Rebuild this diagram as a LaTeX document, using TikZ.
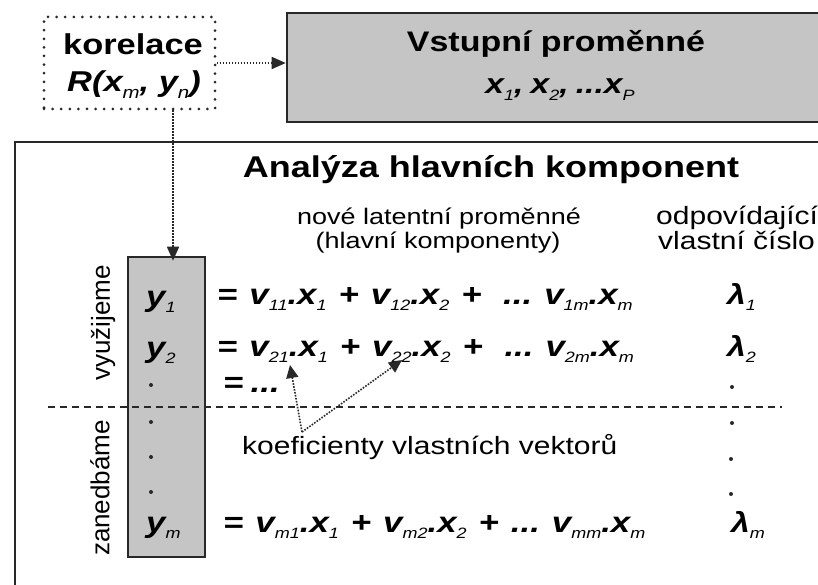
\documentclass[tikz,border=0pt]{standalone}
\usepackage{fontspec}
\setmainfont{Liberation Sans}
\usetikzlibrary{arrows.meta}
\usepackage{graphicx}
\definecolor{boxgray}{RGB}{197,197,197}
\definecolor{ink}{RGB}{40,40,40}
\newcommand\fs[1]{\fontsize{#1}{#1}\selectfont}
\newcommand\bix{\bfseries\itshape}
\newcommand\wide[1]{\scalebox{1.2}[1]{#1}}
% lowered index in a smaller size
\newcommand\ix[2][15]{\raisebox{-6.5pt}{\fs{#1}\mdseries #2}}
\newcommand\im{\textit{m}}
\newcommand\gap[1][10pt]{\hspace{#1}}
\tikzset{
  rowtext/.style={anchor=base west, inner sep=0pt, font=\fs{29}\bix},
  plain/.style={inner sep=0pt, font=\fs{22.5}},
  graybox/.style={draw=ink, line width=2.6pt, fill=boxgray, inner sep=0pt},
  dotbox/.style={draw=ink, line width=3pt, line cap=round, dash pattern=on 0pt off 8.6pt, inner sep=0pt},
  fineline/.style={ink, line width=1.6pt, dash pattern=on 1.6pt off 1.4pt},
  tip/.style={-{Triangle[length=14pt,width=12pt]}},
  smalltip/.style={-{Triangle[length=13pt,width=12pt]}},
  dot/.style={circle, fill=ink, inner sep=0pt, minimum size=4pt},
}
\begin{document}
\begin{tikzpicture}[x=1pt, y=-1pt]
\useasboundingbox (0,0) rectangle (818,585);
\fill[white] (0,0) rectangle (818,585);

% outer frame of the analysis
\draw[ink, line width=2.8pt] (15,142) rectangle (850,620);

% input variables
\node[graybox, minimum width=560pt, minimum height=109pt] (vst) at (567,67.5) {};
\node[inner sep=0pt, font=\fs{28.3}\bfseries, anchor=base] (vstt) at (556,52) {\wide{Vstupní proměnné}};
\node[inner sep=0pt, font=\fs{28}\bix, anchor=base] (vstx) at (560,94) {\wide{x\ix{1},\gap[6pt]x\ix{2},\gap[6pt]...x\ix{\textit{P}}}};

% correlation box
\node[dotbox, minimum width=171pt, minimum height=92pt] (kor) at (129.5,63) {};
\node[inner sep=0pt, font=\fs{28.7}\bfseries, anchor=base] (kort) at (133,55) {\wide{korelace}};
\node[inner sep=0pt, font=\fs{28.7}\bix, anchor=base] (korr) at (134,92) {\wide{R(x\ix[17]{\im}, y\ix[17]{\textit{n}})}};

% heading and column titles
\node[inner sep=0pt, font=\fs{30}\bfseries, anchor=base] (head) at (491,178) {\wide{Analýza hlavních komponent}};
\node[plain, anchor=base] (nl1) at (439,225) {\wide{nové latentní proměnné}};
\node[plain, anchor=base] (nl2) at (438,248) {\wide{(hlavní komponenty)}};
\node[plain, anchor=base west, font=\fs{25}] (ev1) at (656,225) {\wide{odpovídající}};
\node[plain, anchor=base west, font=\fs{25}] (ev2) at (658,249) {\wide{vlastní číslo}};

% component column
\node[graybox, minimum width=77pt, minimum height=300pt] (col) at (166.5,407) {};
\coordinate (px) at (173,0);

% split into retained and neglected components
\draw[ink, line width=2.5pt, dash pattern=on 7pt off 5pt] (48,407) -- (782,407);

\node[plain, rotate=90, font=\fs{26}] (use) at (103,323) {využijeme};
\node[plain, rotate=90, font=\fs{26}] (neg) at (100,488) {zanedbáme};

% rows
\node[rowtext] (y1) at (146,306) {\wide{y\ix{1}}};
\node[rowtext] (y2) at (146,357) {\wide{y\ix{2}}};
\node[rowtext] (ym) at (146,532) {\wide{y\ix{\im}}};
\node[dot] (c1) at (151,385) {};
\node[dot] (c2) at (151,422) {};
\node[dot] (c3) at (151,457) {};
\node[dot] (c4) at (151,492) {};

\node[rowtext] (e1) at (217,304) {\wide{=\gap v\ix{11}.x\ix{1}\gap+\gap v\ix{12}.x\ix{2}\gap+\gap[18pt]...\gap v\ix{1\im}.x\ix{\im}}};
\node[rowtext] (e2) at (217,356) {\wide{=\gap v\ix{21}.x\ix{1}\gap+\gap v\ix{22}.x\ix{2}\gap+\gap[18pt]...\gap v\ix{2\im}.x\ix{\im}}};
\node[rowtext] (e3) at (223,392) {\wide{=\gap[6pt]...}};
\node[rowtext] (em) at (223,532) {\wide{=\gap v\ix{\im1}.x\ix{1}\gap+\gap v\ix{\im2}.x\ix{2}\gap+\gap...\gap v\ix{\im\im}.x\ix{\im}}};

\node[rowtext, font=\fs{28}\bix] (l1) at (727,304) {\wide{λ\ix{1}}};
\node[rowtext, font=\fs{28}\bix] (l2) at (727,356) {\wide{λ\ix{2}}};
\node[rowtext, font=\fs{28}\bix] (lm) at (731,532) {\wide{λ\ix{\im}}};
\node[dot] (d1) at (732,387) {};
\node[dot] (d2) at (732,423) {};
\node[dot] (d3) at (731,459) {};
\node[dot] (d4) at (731,494) {};

% eigenvector coefficients
\node[plain, anchor=base west, font=\fs{25}] (koef) at (242,454) {\wide{koeficienty vlastních vektorů}};
\coordinate (kv) at (302,432);
\coordinate (k1) at (290,365);
\coordinate (k2) at (402,360);
\draw[fineline, smalltip] (kv) -- (k1);
\draw[fineline, smalltip] (kv) -- (k2);

% connectors from the correlation box
\draw[fineline, tip] (kor.east) -- (kor.east -| vst.west);
\draw[fineline, tip] (kor.south -| px) -- ([yshift=-5pt]col.north -| px);
\end{tikzpicture}
\end{document}
